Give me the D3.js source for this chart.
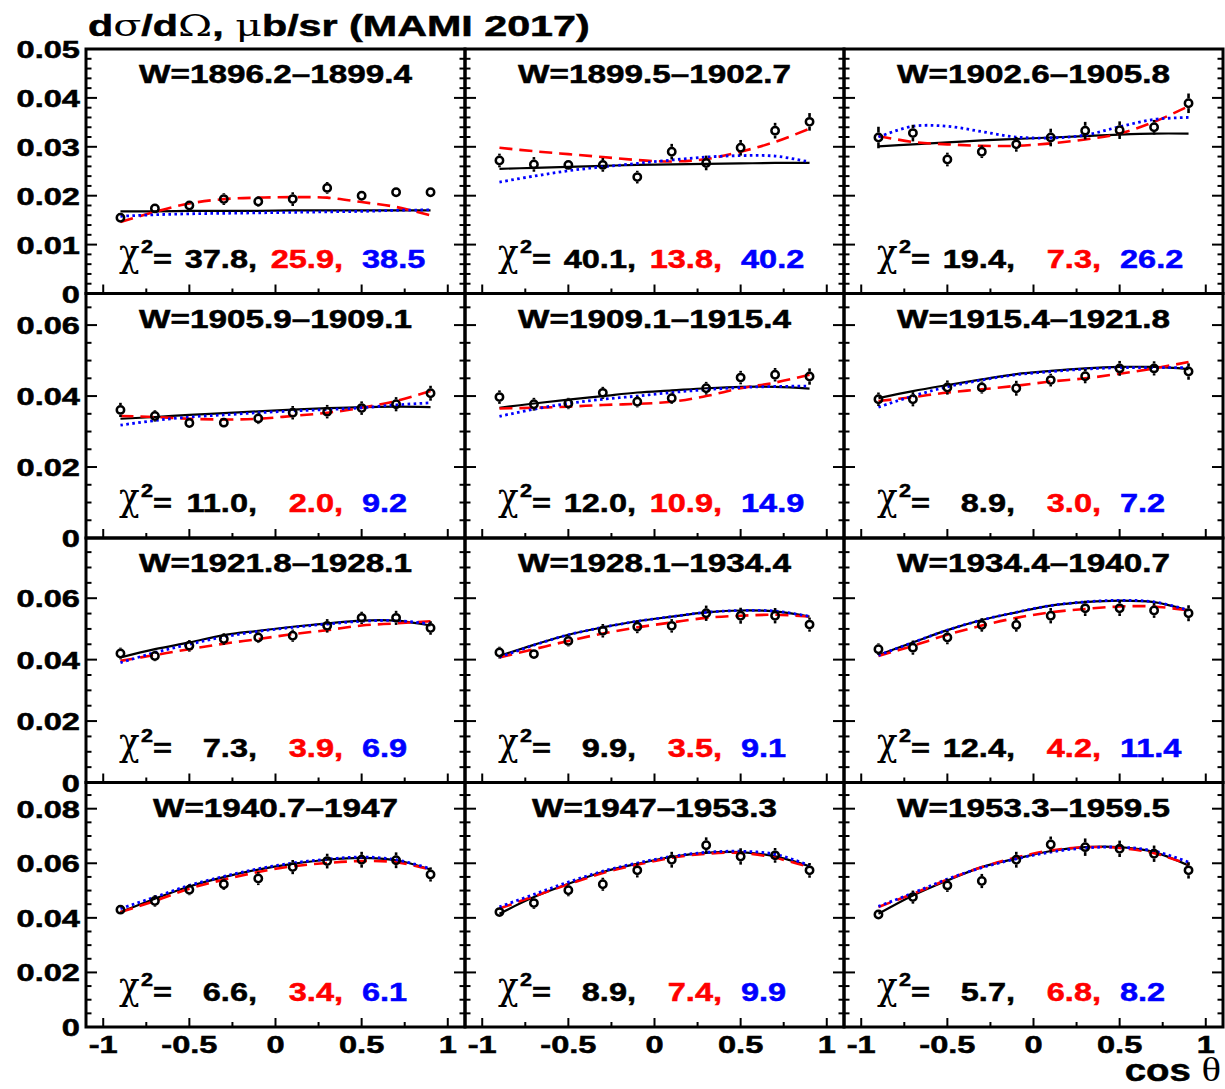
<!DOCTYPE html>
<html>
<head>
<meta charset="utf-8">
<script src="https://cdn.jsdelivr.net/npm/d3@7"></script>
<style>
  body { margin: 0; background: #fff; }
  svg { display: block; }
</style>
</head>
<body>
<svg id="chart" width="1225" height="1089"></svg>
<script>
// ---- data -------------------------------------------------------------
const cosTheta = [-0.9, -0.7, -0.5, -0.3, -0.1, 0.1, 0.3, 0.5, 0.7, 0.9];

const wBins = [
  "W=1896.2\u20131899.4", "W=1899.5\u20131902.7", "W=1902.6\u20131905.8",
  "W=1905.9\u20131909.1", "W=1909.1\u20131915.4", "W=1915.4\u20131921.8",
  "W=1921.8\u20131928.1", "W=1928.1\u20131934.4", "W=1934.4\u20131940.7",
  "W=1940.7\u20131947",   "W=1947\u20131953.3",   "W=1953.3\u20131959.5"
];

// measured dσ/dΩ (μb/sr)
const xsec = [
  [0.0155,0.0174,0.0180,0.0193,0.0188,0.0193,0.0216,0.0200,0.0207,0.0207],
  [0.0272,0.0264,0.0263,0.0263,0.0238,0.0290,0.0267,0.0298,0.0333,0.0351],
  [0.0319,0.0328,0.0274,0.0290,0.0305,0.0319,0.0333,0.0334,0.0340,0.0389],
  [0.0361,0.0344,0.0324,0.0325,0.0337,0.0353,0.0356,0.0366,0.0377,0.0408],
  [0.0397,0.0377,0.0379,0.0409,0.0384,0.0394,0.0422,0.0452,0.0460,0.0455],
  [0.0391,0.0391,0.0424,0.0424,0.0422,0.0445,0.0456,0.0478,0.0478,0.0469],
  [0.0420,0.0412,0.0445,0.0467,0.0472,0.0478,0.0510,0.0536,0.0536,0.0503],
  [0.0423,0.0418,0.0461,0.0494,0.0507,0.0510,0.0551,0.0543,0.0543,0.0514],
  [0.0434,0.0439,0.0472,0.0513,0.0513,0.0543,0.0567,0.0567,0.0560,0.0551],
  [0.0430,0.0462,0.0503,0.0523,0.0544,0.0586,0.0608,0.0613,0.0611,0.0559],
  [0.0421,0.0454,0.0501,0.0523,0.0574,0.0613,0.0666,0.0625,0.0629,0.0574],
  [0.0412,0.0476,0.0519,0.0535,0.0613,0.0669,0.0659,0.0653,0.0635,0.0574]
];

const xsecErr = [
  [0.0008,0.0009,0.0009,0.0012,0.0011,0.0014,0.0012,0.0010,0.0010,0.0009],
  [0.0014,0.0015,0.0009,0.0014,0.0013,0.0016,0.0015,0.0016,0.0016,0.0018],
  [0.0022,0.0017,0.0014,0.0013,0.0015,0.0018,0.0018,0.0018,0.0015,0.0020],
  [0.0020,0.0016,0.0013,0.0014,0.0016,0.0019,0.0019,0.0019,0.0020,0.0021],
  [0.0019,0.0018,0.0016,0.0017,0.0016,0.0016,0.0018,0.0019,0.0019,0.0023],
  [0.0019,0.0020,0.0020,0.0017,0.0021,0.0018,0.0020,0.0021,0.0020,0.0023],
  [0.0019,0.0017,0.0019,0.0019,0.0018,0.0020,0.0022,0.0020,0.0023,0.0022],
  [0.0019,0.0016,0.0018,0.0022,0.0021,0.0022,0.0025,0.0026,0.0025,0.0023],
  [0.0019,0.0023,0.0022,0.0022,0.0022,0.0025,0.0025,0.0025,0.0024,0.0026],
  [0.0015,0.0021,0.0020,0.0021,0.0024,0.0026,0.0027,0.0029,0.0029,0.0026],
  [0.0017,0.0021,0.0022,0.0024,0.0026,0.0029,0.0029,0.0030,0.0027,0.0027],
  [0.0018,0.0024,0.0024,0.0026,0.0029,0.0029,0.0032,0.0030,0.0030,0.0030]
];

// model curves, sampled at the cosTheta points
const fitBlack = [
  [0.0168,0.0168,0.0169,0.0169,0.0169,0.0170,0.0170,0.0170,0.0170,0.0170],
  [0.0255,0.0257,0.0259,0.0261,0.0263,0.0264,0.0265,0.0266,0.0267,0.0267],
  [0.0301,0.0305,0.0309,0.0313,0.0316,0.0319,0.0322,0.0325,0.0327,0.0327],
  [0.0336,0.0341,0.0347,0.0352,0.0357,0.0362,0.0366,0.0369,0.0370,0.0369],
  [0.0367,0.0379,0.0390,0.0400,0.0410,0.0416,0.0422,0.0426,0.0426,0.0421],
  [0.0394,0.0414,0.0431,0.0447,0.0462,0.0471,0.0478,0.0482,0.0482,0.0476],
  [0.0407,0.0434,0.0456,0.0480,0.0494,0.0507,0.0518,0.0527,0.0527,0.0511],
  [0.0412,0.0448,0.0481,0.0505,0.0525,0.0540,0.0554,0.0560,0.0557,0.0540],
  [0.0415,0.0456,0.0496,0.0529,0.0554,0.0576,0.0587,0.0592,0.0587,0.0560],
  [0.0421,0.0470,0.0515,0.0549,0.0577,0.0598,0.0613,0.0620,0.0611,0.0577],
  [0.0415,0.0476,0.0525,0.0568,0.0598,0.0623,0.0638,0.0641,0.0625,0.0589],
  [0.0415,0.0482,0.0537,0.0586,0.0617,0.0645,0.0659,0.0659,0.0641,0.0592]
];
const fitRed = [
  [0.0146,0.0167,0.0184,0.0193,0.0196,0.0197,0.0196,0.0187,0.0177,0.0160],
  [0.0298,0.0291,0.0285,0.0279,0.0273,0.0270,0.0275,0.0290,0.0310,0.0337],
  [0.0322,0.0310,0.0305,0.0302,0.0302,0.0307,0.0315,0.0327,0.0351,0.0383],
  [0.0344,0.0341,0.0336,0.0334,0.0336,0.0344,0.0353,0.0367,0.0386,0.0414],
  [0.0365,0.0367,0.0370,0.0375,0.0378,0.0384,0.0400,0.0422,0.0438,0.0460],
  [0.0386,0.0397,0.0410,0.0419,0.0429,0.0441,0.0450,0.0463,0.0478,0.0496],
  [0.0396,0.0415,0.0434,0.0452,0.0467,0.0483,0.0496,0.0511,0.0518,0.0525],
  [0.0407,0.0434,0.0461,0.0485,0.0505,0.0521,0.0536,0.0543,0.0546,0.0540],
  [0.0412,0.0445,0.0481,0.0511,0.0536,0.0554,0.0565,0.0573,0.0573,0.0560],
  [0.0421,0.0462,0.0507,0.0540,0.0568,0.0589,0.0601,0.0608,0.0604,0.0577],
  [0.0434,0.0479,0.0523,0.0564,0.0595,0.0620,0.0635,0.0638,0.0620,0.0586],
  [0.0440,0.0488,0.0540,0.0586,0.0621,0.0647,0.0659,0.0656,0.0637,0.0596]
];
const fitBlue = [
  [0.0158,0.0161,0.0163,0.0164,0.0165,0.0166,0.0167,0.0168,0.0170,0.0171],
  [0.0228,0.0240,0.0251,0.0259,0.0266,0.0273,0.0279,0.0282,0.0281,0.0269],
  [0.0320,0.0342,0.0342,0.0331,0.0320,0.0318,0.0324,0.0341,0.0356,0.0360],
  [0.0318,0.0331,0.0341,0.0347,0.0353,0.0358,0.0362,0.0367,0.0375,0.0381],
  [0.0343,0.0363,0.0379,0.0391,0.0400,0.0410,0.0418,0.0424,0.0427,0.0428],
  [0.0369,0.0400,0.0426,0.0445,0.0460,0.0469,0.0476,0.0480,0.0480,0.0480],
  [0.0390,0.0423,0.0450,0.0474,0.0492,0.0505,0.0516,0.0525,0.0527,0.0516],
  [0.0408,0.0447,0.0481,0.0505,0.0525,0.0540,0.0554,0.0560,0.0558,0.0541],
  [0.0414,0.0456,0.0496,0.0529,0.0554,0.0576,0.0588,0.0593,0.0588,0.0561],
  [0.0434,0.0476,0.0519,0.0552,0.0580,0.0601,0.0615,0.0623,0.0613,0.0580],
  [0.0440,0.0486,0.0531,0.0571,0.0601,0.0625,0.0640,0.0644,0.0633,0.0592],
  [0.0442,0.0491,0.0542,0.0584,0.0616,0.0641,0.0656,0.0659,0.0645,0.0604]
];

const chi2Black = [37.8, 40.1, 19.4, 11.0, 12.0, 8.9, 7.3, 9.9, 12.4, 6.6, 8.9, 5.7];
const chi2Red   = [25.9, 13.8,  7.3,  2.0, 10.9, 3.0, 3.9, 3.5,  4.2, 3.4, 7.4, 6.8];
const chi2Blue  = [38.5, 40.2, 26.2,  9.2, 14.9, 7.2, 6.9, 9.1, 11.4, 6.1, 9.9, 8.2];

// per-row vertical axis
const yMaxByRow = [0.05, 0.0689, 0.0796, 0.0896];
const yTickValuesByRow = [
  [0, 0.01, 0.02, 0.03, 0.04, 0.05],
  [0, 0.02, 0.04, 0.06],
  [0, 0.02, 0.04, 0.06],
  [0, 0.02, 0.04, 0.06, 0.08]
];
const yMinorStepByRow = [0.002, 0.005, 0.005, 0.005];

const xTickValues = [-1, -0.5, 0, 0.5, 1];
const xTickLabels = ["-1", "-0.5", "0", "0.5", "1"];
const xMinorTicks = [-0.75, -0.25, 0.25, 0.75];

// ---- layout -----------------------------------------------------------
const SANS = "'Liberation Sans', Arial, Helvetica, sans-serif";
const SERIF = "'Liberation Serif', 'Times New Roman', serif";
const GREEK = "'DejaVu Serif', 'Liberation Serif', serif";
const left0 = 86, top0 = 49, pw = 379, ph = 244.5;
const nCols = 3;

const svg = d3.select("#chart");

// bold text, stretched horizontally around its anchor point
function stretchText(parent, x, y, sx, anchor, color = "#000") {
  return parent.append("g")
    .attr("transform", `translate(${x},${y}) scale(${sx},1)`)
    .append("text")
    .attr("text-anchor", anchor)
    .attr("font-family", SANS)
    .attr("font-weight", "bold")
    .attr("fill", color)
    .attr("stroke", color)
    .attr("stroke-width", 0.5);
}

const fmt = v => v === 0 ? "0" : d3.format(".2f")(v);

wBins.forEach((label, i) => {
  const col = i % nCols, row = Math.floor(i / nCols);
  const x0 = left0 + col * pw, y0 = top0 + row * ph;
  const x = d3.scaleLinear().domain([-1.1, 1.1]).range([x0, x0 + pw]);
  const y = d3.scaleLinear().domain([0, yMaxByRow[row]]).range([y0 + ph, y0]);
  const g = svg.append("g");

  // clip for curves
  const clipId = "clip" + i;
  svg.append("clipPath").attr("id", clipId)
    .append("rect").attr("x", x0).attr("y", y0).attr("width", pw).attr("height", ph);

  // y ticks (left and right, pointing inward)
  const yMax = yMaxByRow[row];
  const minorStep = yMinorStepByRow[row];
  const nMinor = Math.floor(yMax / minorStep + 1e-6);
  const majors = yTickValuesByRow[row];
  const yt = g.append("g").attr("stroke", "#000").attr("stroke-width", 2);
  for (let k = 1; k <= nMinor; k++) {
    const v = k * minorStep;
    const isMajor = majors.some(m => Math.abs(m - v) < 1e-9);
    const len = isMajor ? 11 : 5.5;
    const yy = y(v);
    yt.append("line").attr("x1", x0).attr("x2", x0 + len).attr("y1", yy).attr("y2", yy);
    yt.append("line").attr("x1", x0 + pw).attr("x2", x0 + pw - len).attr("y1", yy).attr("y2", yy);
  }
  // x ticks (bottom, pointing up)
  xTickValues.forEach(v => {
    g.append("line").attr("stroke", "#000").attr("stroke-width", 2)
      .attr("x1", x(v)).attr("x2", x(v)).attr("y1", y0 + ph).attr("y2", y0 + ph - 9);
  });
  xMinorTicks.forEach(v => {
    g.append("line").attr("stroke", "#000").attr("stroke-width", 2)
      .attr("x1", x(v)).attr("x2", x(v)).attr("y1", y0 + ph).attr("y2", y0 + ph - 5);
  });

  // model curves
  const line = d3.line()
    .x((d, k) => x(cosTheta[k]))
    .y(d => y(d))
    .curve(d3.curveCatmullRom.alpha(0.5));
  const cg = g.append("g").attr("clip-path", `url(#${clipId})`).attr("fill", "none");
  cg.append("path").attr("d", line(fitBlack[i]))
    .attr("stroke", "#000").attr("stroke-width", 2.2);
  cg.append("path").attr("d", line(fitRed[i]))
    .attr("stroke", "#ff0000").attr("stroke-width", 2.6)
    .attr("stroke-dasharray", "13,7");
  cg.append("path").attr("d", line(fitBlue[i]))
    .attr("stroke", "#0000ff").attr("stroke-width", 2.8)
    .attr("stroke-dasharray", "2.6,3.4");

  // data points with error bars
  const r = 3.7, rOut = r + 1.2;
  const pg = g.append("g");
  xsec[i].forEach((v, k) => {
    const cx = x(cosTheta[k]), cy = y(v);
    const yHi = y(v + xsecErr[i][k]), yLo = y(v - xsecErr[i][k]);
    if (cy - rOut > yHi) pg.append("line").attr("x1", cx).attr("x2", cx)
      .attr("y1", yHi).attr("y2", cy - rOut).attr("stroke", "#000").attr("stroke-width", 2.6);
    if (yLo > cy + rOut) pg.append("line").attr("x1", cx).attr("x2", cx)
      .attr("y1", cy + rOut).attr("y2", yLo).attr("stroke", "#000").attr("stroke-width", 2.6);
    pg.append("circle").attr("cx", cx).attr("cy", cy).attr("r", r)
      .attr("fill", "none").attr("stroke", "#000").attr("stroke-width", 2.5);
  });

  // frame
  g.append("rect").attr("x", x0).attr("y", y0).attr("width", pw).attr("height", ph)
    .attr("fill", "none").attr("stroke", "#000").attr("stroke-width", 3);

  // W-bin label
  stretchText(g, x0 + pw / 2, y0 + 34, 1.3, "middle")
    .attr("font-size", 25.6).text(label);

  // chi-square line
  const base = y0 + ph - 26;
  g.append("g").attr("transform", `translate(${x0 + 33},${base - 2}) scale(1,1.15)`)
    .append("text").attr("font-family", GREEK).attr("font-size", 34).text("\u03c7");
  stretchText(g, x0 + 55, base - 15, 1.2, "start").attr("font-size", 18).text("2");
  stretchText(g, x0 + 67, base, 1.25, "start").attr("font-size", 26).text("=");
  stretchText(g, x0 + 171, base, 1.25, "end").attr("font-size", 26)
    .text(chi2Black[i].toFixed(1) + ",");
  stretchText(g, x0 + 257, base, 1.25, "end", "#ff0000").attr("font-size", 26)
    .text(chi2Red[i].toFixed(1) + ",");
  stretchText(g, x0 + 276, base, 1.25, "start", "#0000ff").attr("font-size", 26)
    .text(chi2Blue[i].toFixed(1));

  // y tick labels on the first column
  if (col === 0) {
    majors.forEach(v => {
      stretchText(svg, 80, y(v) + 9, 1.4, "end").attr("font-size", 23.3).text(fmt(v));
    });
  }
  // x tick labels on the bottom row
  if (row === 3) {
    xTickValues.forEach((v, k) => {
      stretchText(svg, x(v), 1053, 1.4, "middle").attr("font-size", 23.3).text(xTickLabels[k]);
    });
  }
});

// title
const titleG = svg.append("g");
const title = titleG.append("text")
  .attr("x", 0).attr("y", 0)
  .attr("font-family", SANS).attr("font-weight", "bold").attr("font-size", 29.3)
  .attr("stroke", "#000").attr("stroke-width", 0.5);
title.append("tspan").text("d");
title.append("tspan").attr("font-family", GREEK).attr("font-weight", "normal")
  .attr("stroke-width", 0).text("\u03c3");
title.append("tspan").text("/d");
title.append("tspan").attr("font-family", GREEK).attr("font-weight", "normal")
  .attr("stroke-width", 0).text("\u03a9");
title.append("tspan").text(", ");
title.append("tspan").attr("font-family", GREEK).attr("font-weight", "normal")
  .attr("stroke-width", 0).text("\u03bc");
title.append("tspan").text("b/sr (MAMI 2017)");
const tw = title.node().getBBox().width;
titleG.attr("transform", `translate(88,36) scale(${502 / tw},1)`);

// x-axis title
const xt = svg.append("g").attr("transform", "translate(1221,1081) scale(1.2,1)")
  .append("text").attr("text-anchor", "end")
  .attr("font-family", SANS).attr("font-weight", "bold").attr("font-size", 32)
  .attr("stroke", "#000").attr("stroke-width", 0.5);
xt.append("tspan").text("cos ");
xt.append("tspan").attr("font-family", SERIF).attr("font-weight", "normal")
  .attr("stroke-width", 0).attr("font-size", 34).text("\u03b8");
</script>
</body>
</html>
